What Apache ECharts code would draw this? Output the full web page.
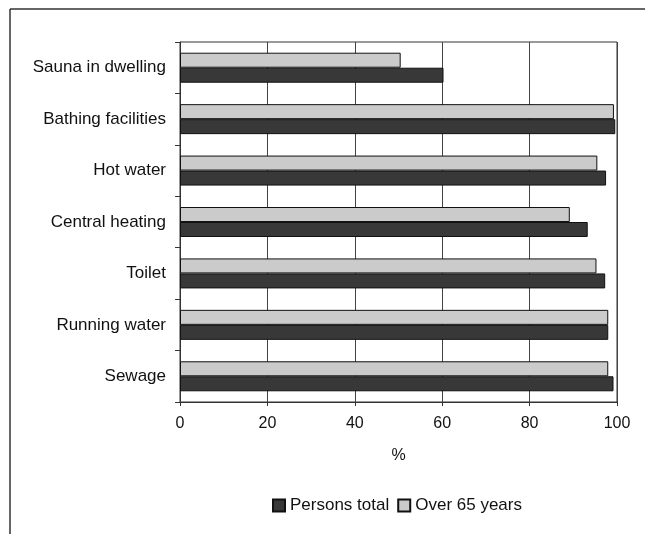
<!DOCTYPE html>
<html><head><meta charset="utf-8">
<script src="https://cdn.jsdelivr.net/npm/echarts@6/dist/echarts.min.js"></script>
<style>html,body{margin:0;padding:0;background:#fff}#c{width:645px;height:534px}</style>
</head><body><div id="c"></div>
<script>
const categories = ['Sauna in dwelling','Bathing facilities','Hot water','Central heating','Toilet','Running water','Sewage'];
const personsTotal = [60.3, 99.6, 97.5, 93.3, 97.3, 98, 99.2];
const over65 = [50.5, 99.3, 95.5, 89.2, 95.3, 98, 98];
const xTicks = [0, 20, 40, 60, 80, 100];
const seriesNames = ['Persons total', 'Over 65 years'];

const chart = echarts.init(document.getElementById('c'));
const font = 'Liberation Sans, Arial, sans-serif';
chart.setOption({
  animation: false,
  textStyle: {fontFamily: font},
  graphic: [
    {type:'line', shape:{x1:10,y1:9,x2:645,y2:9}, style:{stroke:'#333',lineWidth:1.5}},
    {type:'line', shape:{x1:10,y1:9,x2:10,y2:534}, style:{stroke:'#333',lineWidth:1.5}}
  ],
  grid: {left:180, right:28, top:42, bottom:132, show:true, borderColor:'#333', borderWidth:1},
  legend: {
    data: seriesNames, top: 492, left: 267, itemWidth: 12, itemHeight: 12, itemGap: 8,
    icon: 'rect', textStyle: {fontSize: 17, color:'#111', fontFamily: font}
  },
  xAxis: {
    type:'value', min: xTicks[0], max: xTicks[xTicks.length-1], interval: 20,
    name: '%', nameLocation: 'middle', nameGap: 46,
    nameTextStyle: {fontSize: 16, color:'#111', fontFamily: font},
    axisLine: {show:true, lineStyle:{color:'#333'}},
    axisTick: {show:true, length:4, lineStyle:{color:'#333'}},
    axisLabel: {fontSize: 16, color:'#111', margin: 14, fontFamily: font},
    splitLine: {show:true, lineStyle:{color:'#444', width:1}}
  },
  yAxis: {
    type:'category', data: categories, inverse: true,
    axisLine: {show:true, lineStyle:{color:'#333'}},
    axisTick: {show:true, length:5, lineStyle:{color:'#333'}},
    axisLabel: {fontSize: 17, color:'#111', margin: 14, fontFamily: font}
  },
  series: [
    {name: seriesNames[1], type:'bar', data: over65, barWidth: 15, barGap: '0%',
     itemStyle:{color:'#cbcbcb', borderColor:'#111', borderWidth:1}},
    {name: seriesNames[0], type:'bar', data: personsTotal, barWidth: 15, barGap: '0%',
     itemStyle:{color:'#383838', borderColor:'#111', borderWidth:1}}
  ]
});
</script></body></html>
